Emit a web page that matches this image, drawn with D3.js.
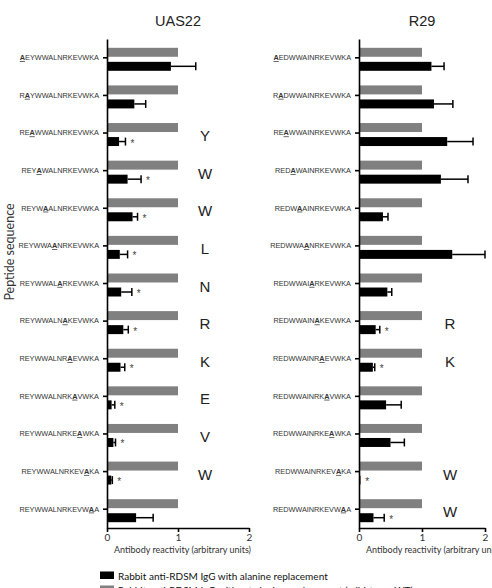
<!DOCTYPE html>
<html>
<head>
<meta charset="utf-8">
<script src="https://cdn.jsdelivr.net/npm/d3@7"></script>
<style>
  body { margin: 0; background: #fff; }
  svg { display: block; }
</style>
</head>
<body>
<div id="chart"></div>
<script>
// peptide sequences, index of the alanine replacement in each
var uasPeptides = ["AEYWWALNRKEVWKA","RAYWWALNRKEVWKA","REAWWALNRKEVWKA","REYAWALNRKEVWKA","REYWAALNRKEVWKA",
  "REYWWAANRKEVWKA","REYWWALARKEVWKA","REYWWALNAKEVWKA","REYWWALNRAEVWKA","REYWWALNRKAVWKA",
  "REYWWALNRKEAWKA","REYWWALNRKEVAKA","REYWWALNRKEVWAA"]
var r29Peptides = ["AEDWWAINRKEVWKA","RADWWAINRKEVWKA","REAWWAINRKEVWKA","REDAWAINRKEVWKA","REDWAAINRKEVWKA",
  "REDWWAANRKEVWKA","REDWWAIARKEVWKA","REDWWAINAKEVWKA","REDWWAINRAEVWKA","REDWWAINRKAVWKA",
  "REDWWAINRKEAWKA","REDWWAINRKEVAKA","REDWWAINRKEVWAA"]
var alaPos = [0,1,2,3,4,6,7,8,9,10,11,12,13]

// wild type (grey) is always 1
var uasWT = [1,1,1,1,1,1,1,1,1,1,1,1,1]
var uasAla = [0.90,0.385,0.17,0.29,0.36,0.18,0.20,0.23,0.19,0.065,0.09,0.06,0.41]
var uasErr = [1.25,0.545,0.26,0.48,0.43,0.29,0.35,0.30,0.25,0.11,0.12,0.075,0.65]
var uasStar = [0,0,1,1,1,1,1,1,1,1,1,1,0]
var uasResidue = ["","","Y","W","W","L","N","R","K","E","V","W",""]

var r29WT = [1,1,1,1,1,1,1,1,1,1,1,1,1]
var r29Ala = [1.15,1.19,1.40,1.30,0.38,1.48,0.45,0.265,0.22,0.43,0.50,0.02,0.23]
var r29Err = [1.35,1.49,1.81,1.73,0.46,2.0,0.52,0.33,0.25,0.67,0.72,0.02,0.40]
var r29Star = [0,0,0,0,0,0,0,1,1,0,0,1,1]
var r29Residue = ["","","","","","","","R","K","","","W","W"]

var xTicks = [0,1,2]
var legendLabels = ["Rabbit anti-RDSM IgG with alanine replacement",
  "Rabbit anti-RDSM IgG without alanine replacement (wild-type; WT)"]

var width = 492, height = 588
var svg = d3.select("#chart").append("svg")
  .attr("width", width)
  .attr("height", height)

var top1 = 39, bottom1 = 528

function panel(title, peptides, wt, ala, err, star, residue, x0, x2, labelX, resX) {
  var x = d3.scaleLinear().domain([0,2]).range([x0, x2])
  var y = d3.scaleBand().domain(peptides).range([top1, bottom1])
  var sub = d3.scaleBand().domain(["wt","ala"]).range([-10, 13]).paddingInner(0.36)
  var bw = sub.bandwidth()
  var g = svg.append("g")

  g.append("text")
    .attr("x", (x0 + x2) / 2 + 0)
    .attr("y", 26)
    .attr("text-anchor", "middle")
    .attr("font-family", "Liberation Sans, Arial, sans-serif")
    .attr("font-size", "14.5px")
    .attr("fill", "#222")
    .text(title)

  // grey WT bars
  g.selectAll(".wt").data(peptides).enter().append("rect")
    .attr("x", x(0))
    .attr("y", function(d) { return y(d) + y.bandwidth()/2 + sub("wt") })
    .attr("width", function(d,i) { return x(wt[i]) - x(0) })
    .attr("height", bw)
    .attr("fill", "#808080")

  // black alanine bars
  g.selectAll(".ala").data(peptides).enter().append("rect")
    .attr("x", x(0))
    .attr("y", function(d) { return y(d) + y.bandwidth()/2 + sub("ala") })
    .attr("width", function(d,i) { return Math.max(x(ala[i]) - x(0), 1.5) })
    .attr("height", bw)
    .attr("fill", "#000")

  // error bars
  peptides.forEach(function(d,i) {
    var cy = y(d) + y.bandwidth()/2 + sub("ala") + bw/2
    if (err[i] > ala[i] + 0.005) {
      g.append("line")
        .attr("x1", x(ala[i])).attr("x2", x(err[i]))
        .attr("y1", cy).attr("y2", cy)
        .attr("stroke", "#000").attr("stroke-width", 1.5)
      g.append("line")
        .attr("x1", x(err[i])).attr("x2", x(err[i]))
        .attr("y1", cy - bw/2 + 0.5).attr("y2", cy + bw/2 - 0.5)
        .attr("stroke", "#000").attr("stroke-width", 1.5)
    }
    if (star[i]) {
      g.append("text")
        .attr("x", x(Math.max(err[i], ala[i])) + 5)
        .attr("y", cy + 5)
        .attr("font-family", "Liberation Sans, Arial, sans-serif")
        .attr("font-size", "10px")
        .attr("fill", "#444")
        .text("*")
    }
    if (residue[i]) {
      g.append("text")
        .attr("x", resX)
        .attr("y", y(d) + y.bandwidth()/2 + 8)
        .attr("text-anchor", "middle")
        .attr("font-family", "Liberation Sans, Arial, sans-serif")
        .attr("font-size", "15px")
        .attr("fill", "#222")
        .text(residue[i])
    }
  })

  // y axis with peptide labels
  var ya = g.append("g")
    .attr("transform", "translate(" + x0 + ",0)")
    .call(d3.axisLeft(y).tickSize(4).tickSizeOuter(0).tickPadding(4))
  ya.select(".domain").attr("stroke-width", 1.6)
  ya.selectAll(".tick line").attr("stroke-width", 1.6)
  ya.selectAll(".tick text")
    .attr("font-family", "Liberation Sans, Arial, sans-serif")
    .attr("font-size", "7.3px")
    .attr("fill", "#333")
    .each(function(d) {
      var i = peptides.indexOf(d)
      var p = alaPos[i]
      var t = d3.select(this).text(null)
      t.append("tspan").text(d.slice(0, p))
      t.append("tspan").text(d.slice(p, p+1))
        .attr("font-weight", "bold")
        .attr("text-decoration", "underline")
      t.append("tspan").text(d.slice(p+1))
    })

  // x axis
  var xa = g.append("g")
    .attr("transform", "translate(0," + bottom1 + ")")
    .call(d3.axisBottom(x).tickValues(xTicks).tickFormat(d3.format("d")).tickSize(4).tickSizeOuter(0).tickPadding(2))
  xa.select(".domain").attr("stroke-width", 1.6)
  xa.selectAll(".tick line").attr("stroke-width", 1.6)
  xa.selectAll(".tick text")
    .attr("font-family", "Lato, sans-serif")
    .attr("font-size", "10px")
    .attr("fill", "#333")

  g.append("text")
    .attr("x", labelX)
    .attr("y", 553)
    .attr("font-family", "Lato, sans-serif")
    .attr("font-size", "9px")
    .attr("fill", "#333")
    .text("Antibody reactivity (arbitrary units)")
}

panel("UAS22", uasPeptides, uasWT, uasAla, uasErr, uasStar, uasResidue, 107, 249, 114, 205)
panel("R29", r29Peptides, r29WT, r29Ala, r29Err, r29Star, r29Residue, 359, 485, 366, 450)

// y label
svg.append("text")
  .attr("transform", "translate(14,252) rotate(-90)")
  .attr("text-anchor", "middle")
  .attr("font-family", "Lato, sans-serif")
  .attr("font-size", "12.5px")
  .attr("fill", "#333")
  .text("Peptide sequence")

// legend
var legColors = ["#000", "#808080"]
var leg = svg.append("g")
leg.selectAll("rect").data(legendLabels).enter().append("rect")
  .attr("x", 100)
  .attr("y", function(d,i) { return 571.5 + i*14 })
  .attr("width", 14)
  .attr("height", 7.5)
  .attr("fill", function(d,i) { return legColors[i] })
leg.selectAll("text").data(legendLabels).enter().append("text")
  .attr("x", 118)
  .attr("y", function(d,i) { return 579.5 + i*14 })
  .attr("font-family", "Lato, sans-serif")
  .attr("font-size", "10px")
  .attr("fill", "#111")
  .text(function(d) { return d })
</script>
</body>
</html>
